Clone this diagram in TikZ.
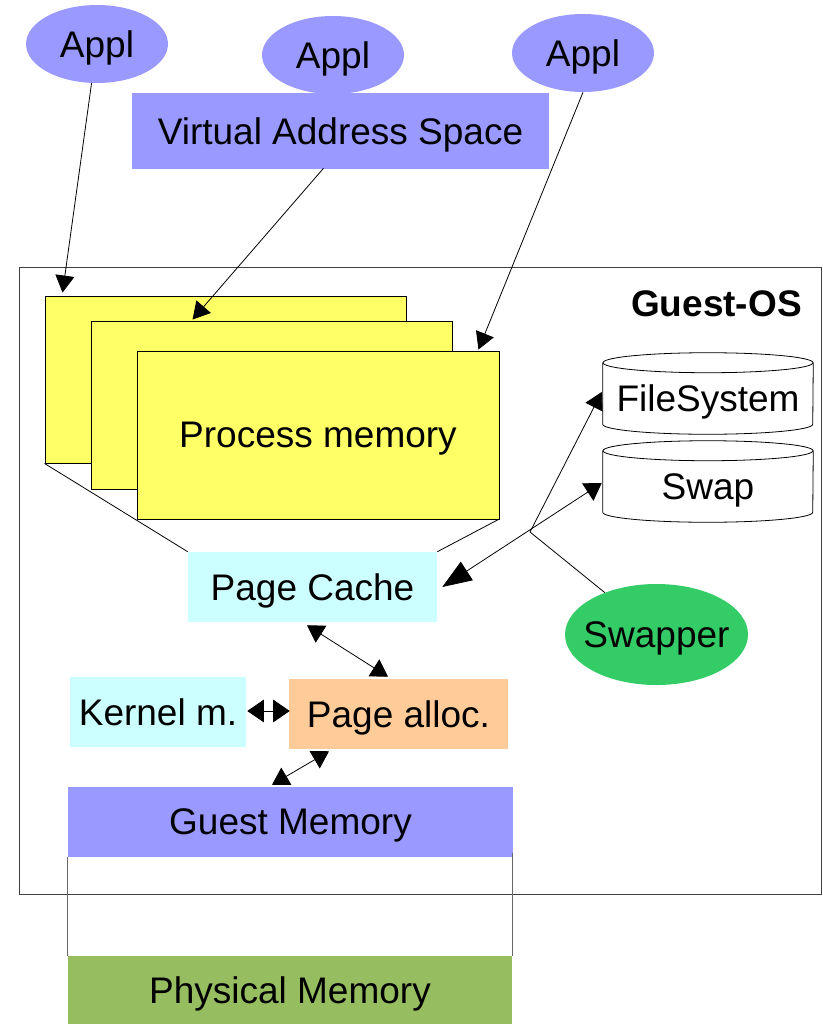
\documentclass[tikz,border=0pt]{standalone}
\usepackage{fontspec}
\setmainfont{Liberation Sans}
\usetikzlibrary{shapes.geometric,arrows.meta,calc}
\definecolor{lilac}{HTML}{9999FF}
\definecolor{pmyellow}{HTML}{FFFF66}
\definecolor{lightcyan}{HTML}{CCFFFF}
\definecolor{peach}{HTML}{FFCC99}
\definecolor{swgreen}{HTML}{33CC66}
\definecolor{physgreen}{RGB}{150,190,96}
\begin{document}
\begin{tikzpicture}[x=0.75pt,y=-0.75pt,
  every node/.style={font=\fontsize{27.75}{33}\selectfont, inner sep=0pt, text depth=0pt},
  sz/.style 2 args={minimum width=#1*0.75pt, minimum height=#2*0.75pt},
  appl/.style={ellipse, fill=lilac, sz={142}{78}},
  pmbox/.style={rectangle, draw=black, fill=pmyellow, line width=0.7pt},
  conn/.style={draw=black, line width=0.6pt},
  arr/.style={conn, -{Triangle[length=12.75pt,width=14.25pt]}},
  darr/.style={conn, {Triangle[length=12.5pt,width=15pt]}-{Triangle[length=12.5pt,width=15pt]}},
  kdarr/.style={conn, {Triangle[length=12.5pt,width=17pt]}-{Triangle[length=12.5pt,width=17pt]}},
  bigdarr/.style={conn, {Triangle[length=22pt,width=16.5pt]}-{Triangle[length=12.5pt,width=15.5pt]}},
  cyl/.style={draw=black, line width=0.6pt},
]
\useasboundingbox (0,0) rectangle (823,1024);

% Guest-OS frame
\node[draw=black!75, line width=0.6pt, sz={802}{627}, anchor=north west] (os) at (19,267) {};
\node[anchor=east, font=\fontsize{27.75}{33}\selectfont\bfseries] (oslabel) at (802,303.5) {Guest-OS};

% applications
\node[appl] (appl1) at (97,44) {Appl};
\node[appl] (appl2) at (333,55) {Appl};
\node[appl] (appl3) at (583,53) {Appl};
\node[fill=lilac, sz={417}{76}] (vas) at (340.5,131) {Virtual Address Space};

% process memory stack
\node[pmbox, sz={361}{167}] (pm1) at (225.5,379.5) {};
\node[pmbox, sz={361}{168}] (pm2) at (271.5,405) {};
\node[pmbox, sz={362}{168}] (pm3) at (318,435) {Process memory};

% other boxes
\node[fill=lightcyan, sz={249}{70}] (pc) at (312.5,587) {Page Cache};
\node[fill=lightcyan, sz={176}{70}] (km) at (158,712) {Kernel m.};
\node[fill=peach, sz={219}{70}] (pa) at (398.5,714) {Page alloc.};
\node[fill=lilac, sz={445}{70}] (gm) at (290.5,822) {Guest Memory};
\node[fill=physgreen, sz={444}{68}] (phys) at (290,990) {Physical Memory};

% cylinders
\node[sz={210}{71}] (fs) at (708,398.5) {FileSystem};
\node[sz={210}{71}] (swap) at (708,486.5) {Swap};
\foreach \c in {fs,swap}{
  \path[cyl] (\c.north west) -- ($(\c.south west)+(0,-10)$)
     arc[start angle=180, end angle=360, x radius=78.75pt, y radius=7.5pt]
     -- (\c.north east);
  \draw[cyl] (\c.north) ellipse[x radius=78.75pt, y radius=7.5pt];
}

\node[ellipse, fill=swgreen, inner xsep=-6.4pt, inner ysep=4pt, sz={183}{101}] (swapper) at (656.5,634.5) {Swapper};

% connectors
\draw[arr] (appl1) -- ($(pm1.north west)+(18,-3)$);
\draw[arr] ($(vas.south)+(-17,-1)$) -- ($(pm2.north west)+(102,-1)$);
\draw[arr] (appl3.south) -- ($(pm3.north east)+(-21,-1)$);

\draw[conn] (pm1.south west) -- (pc.north west);
\draw[conn] ($(pm3.south east)+(-1,0)$) -- (pc.north east);

\draw[darr] ($(pc.south)+(-5.5,3)$) -- ($(pa.north)+(-10.5,-2)$);
\draw[kdarr] ($(km.east)+(1,-1)$) -- ($(pa.west)+(1,-3)$);
\draw[darr] ($(pa.south)+(-69.5,2)$) -- ($(gm.north)+(-18.5,-2)$);

\draw[bigdarr] ($(pc.east)+(5,0)$) -- ($(swap.west)+(-1,-3.5)$);
\coordinate (j) at (530,532);
\draw[arr] (j) -- ($(fs.west)+(-1,-6.5)$);
\draw[conn] (swapper) -- (j);

\draw[black!60, line width=0.6pt] (gm.south west) -- (phys.north west);
\draw[black!60, line width=0.6pt] ($(gm.south east)+(-1,-4)$) -- (phys.north east);
\end{tikzpicture}
\end{document}
